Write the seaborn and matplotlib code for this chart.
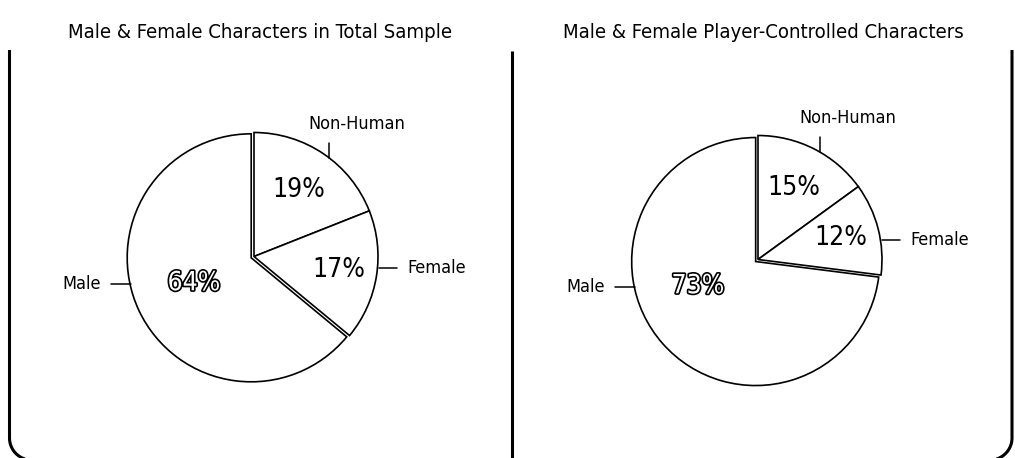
import numpy as np
import matplotlib
matplotlib.use("Agg")
import matplotlib.pyplot as plt
import matplotlib.patheffects as pe
from matplotlib.path import Path
from matplotlib.patches import PathPatch
import seaborn as sns

# data (clockwise from 12 o'clock)
categories = ["Non-Human", "Female", "Male"]
total_sample = [19, 17, 64]
player_controlled = [15, 12, 73]
pct_labels_total = ["19%", "17%", "64%"]
pct_labels_player = ["15%", "12%", "73%"]
titles = ["Male & Female Characters in Total Sample",
          "Male & Female Player-Controlled Characters"]

sns.set_theme(style="white")
plt.rcParams['font.family'] = ['DejaVu Sans']
plt.rcParams['font.stretch'] = 'condensed'
plt.rcParams['text.color'] = 'black'

W, H = 1015, 458
R = 124  # pie radius in pixels
fig = plt.figure(figsize=(W / 100, H / 100), dpi=100)
fig.patch.set_facecolor("white")


def px_axes(cx, cy, w=480, h=400):
    # axes centred on pixel (cx, cy), pixels counted from the top left
    ax = fig.add_axes([(cx - w / 2) / W, (H - cy - h / 2) / H, w / W, h / H])
    return ax, w, h


def polar(deg, r):
    t = np.deg2rad(deg)
    return r * np.cos(t), r * np.sin(t)


def draw_pie(cx, cy, values, pct_labels):
    ax, w, h = px_axes(cx, cy)
    wedges, _ = ax.pie(values, startangle=90, counterclock=False,
                       explode=[0, 0, 0.025], colors=["white"] * 3,
                       wedgeprops=dict(edgecolor="black", linewidth=1.2))
    ax.set_xlim(-w / 2 / R, w / 2 / R)
    ax.set_ylim(-h / 2 / R, h / 2 / R)
    ax.set_aspect("equal")
    ax.axis("off")

    mids = [(wd.theta1 + wd.theta2) / 2 for wd in wedges]
    px = 1 / R  # one pixel in data units

    # percentages
    for i, (lab, rr) in enumerate(zip(pct_labels[:2], [0.645, 0.69])):
        x, y = polar(mids[i], rr)
        ax.text(x, y, lab, ha="center", va="center", fontsize=19)
    x, y = polar(204, 0.53)
    ax.text(x, y, pct_labels[2], ha="center", va="center", fontsize=19,
            color="white",
            path_effects=[pe.withStroke(linewidth=2.4, foreground="black")])

    # Non-Human: short vertical tick above the rim
    x, y = polar(mids[0] - 3, 1.0)
    ax.plot([x, x], [y, y + 15 * px], color="black", lw=1.1)
    ax.text(x + 28 * px, y + 25 * px, categories[0], ha="center", va="bottom",
            fontsize=13)

    # Female: horizontal tick to the right, a little below the wedge's top edge
    x, y = polar(wedges[1].theta2 - 27, 1.0)
    ax.plot([x + 2 * px, x + 20 * px], [y, y], color="black", lw=1.1)
    ax.text(x + 30 * px, y, categories[1], ha="left", va="center", fontsize=13)

    # Male: horizontal tick to the left
    x, y = polar(193, 1.0)
    ax.plot([x - 2 * px, x - 22 * px], [y, y], color="black", lw=1.1)
    ax.text(x - 32 * px, y, categories[2], ha="right", va="center", fontsize=13)
    return ax


draw_pie(254, 256.5, total_sample, pct_labels_total)
draw_pie(758, 259.5, player_controlled, pct_labels_player)

fig.text(260 / W, 1 - 32 / H, titles[0], ha="center", va="center", fontsize=14.6)
fig.text(763 / W, 1 - 32 / H, titles[1], ha="center", va="center", fontsize=14.6)


# panel frame: open at the top, rounded corners at the bottom
def frame_path(pts):
    verts = [(x / W, 1 - y / H) for x, y in pts]
    codes = [Path.MOVETO] + [Path.LINETO] * (len(verts) - 1)
    return PathPatch(Path(verts, codes), transform=fig.transFigure,
                     fill=False, edgecolor="black", lw=2.2, capstyle="butt")


rc, yb, top = 22, 460, 50
t = np.linspace(np.pi, np.pi / 2, 20)
x0 = 9.5
left = [(x0, top)] + [(x0 + rc + rc * np.cos(a), yb - rc + rc * np.sin(a)) for a in t] + [(x0 + 80, yb)]
x1 = 1012
t = np.linspace(0, np.pi / 2, 20)
right = [(x1, top)] + [(x1 - rc + rc * np.cos(a), yb - rc + rc * np.sin(a)) for a in t] + [(x1 - 80, yb)]
fig.add_artist(frame_path(left))
fig.add_artist(frame_path(right))
fig.add_artist(frame_path([(512, 51), (512, 460)]))

fig.savefig("out.png", dpi=100, facecolor="white")
